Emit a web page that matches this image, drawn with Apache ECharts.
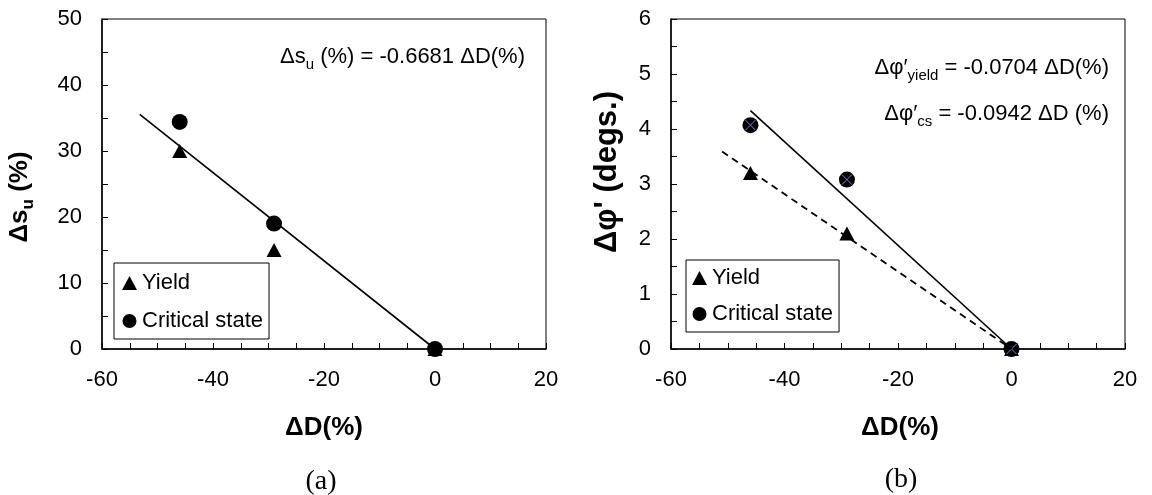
<!DOCTYPE html>
<html>
<head>
<meta charset="utf-8">
<script src="https://cdn.jsdelivr.net/npm/echarts@6/dist/echarts.min.js"></script>
<style>
  html, body { margin: 0; padding: 0; background: #fff; }
  #chart { width: 1152px; height: 495px; }
</style>
</head>
<body>
<div id="chart"></div>
<script>
// ---- Panel (a): change in undrained strength vs change in relative density ----
const dDa = [-46, -29, 0];
const suYield = [30, 15, 0];
const suCritical = [34.4, 19, 0];
const suSlope = -0.6681;          // fitted line, Δs_u = slope · ΔD
const suFitX = [-53.2, 0];        // extent of the fitted line

// ---- Panel (b): change in friction angle vs change in relative density ----
const dDb = [-46, -29, 0];
const phiYield = [3.2, 2.1, 0];
const phiCritical = [4.07, 3.08, 0];
const phiYieldSlope = -0.0704;
const phiCsSlope = -0.0942;
const phiYieldFitX = [-51, 0];
const phiCsFitX = [-46, 0];

// ---- Tick labels ----
const xTicks = [-60, -40, -20, 0, 20];
const suTicks = [0, 10, 20, 30, 40, 50];
const phiTicks = [0, 1, 2, 3, 4, 5, 6];

const FONT = "'Liberation Sans', Arial, Helvetica, sans-serif";
const SERIF = "'Liberation Serif', 'Times New Roman', serif";

const zip = (xs, ys) => xs.map((x, i) => [x, ys[i]]);
const fitLine = (slope, xs) => xs.map(x => [x, slope * x]);

function valueAxis(ticks, idx, minorSplit) {
  return {
    type: 'value',
    gridIndex: idx,
    min: ticks[0],
    max: ticks[ticks.length - 1],
    interval: ticks[1] - ticks[0],
    axisLine: { show: true, onZero: false, lineStyle: { color: '#000', width: 1.5 } },
    axisTick: { show: true, inside: true, length: 6, lineStyle: { color: '#000', width: 1 } },
    minorTick: { show: true, splitNumber: minorSplit, length: 6, lineStyle: { color: '#000', width: 1 } },
    splitLine: { show: false },
    axisLabel: { color: '#000', fontSize: 22, fontFamily: FONT, margin: 20 }
  };
}

const legendBase = {
  data: ['Yield', 'Critical state'],
  orient: 'vertical',
  itemWidth: 15,
  itemHeight: 14,
  borderColor: '#000',
  borderWidth: 1,
  borderRadius: 0,
  backgroundColor: '#fff',
  selectedMode: false,
  textStyle: { color: '#000', fontSize: 22, fontFamily: FONT }
};

const subStyle = (size, weight) => ({
  fontSize: size, fontFamily: FONT, fontWeight: weight, fill: '#000', padding: [size, 0, 0, 0]
});

function label(text, x, y, opts) {
  return {
    type: 'text', x: x, y: y, rotation: opts.rotation || 0, z: 100,
    style: {
      text: text,
      fill: '#000',
      fontSize: opts.size,
      fontFamily: opts.family || FONT,
      fontWeight: opts.weight || 'normal',
      align: opts.align || 'center',
      verticalAlign: 'middle',
      rich: { sub: subStyle(opts.subSize || 15, opts.weight || 'normal') }
    }
  };
}

const marker = { color: '#000', opacity: 1 };

const chart = echarts.init(document.getElementById('chart'), null, { renderer: 'canvas' });

chart.setOption({
  animation: false,
  backgroundColor: '#fff',
  grid: [
    { left: 102, top: 19, width: 444, height: 330, show: true, borderColor: '#000', borderWidth: 1, backgroundColor: 'transparent' },
    { left: 671, top: 19, width: 454, height: 330, show: true, borderColor: '#000', borderWidth: 1, backgroundColor: 'transparent' }
  ],
  xAxis: [valueAxis(xTicks, 0, 4), valueAxis(xTicks, 1, 4)],
  yAxis: [valueAxis(suTicks, 0, 2), valueAxis(phiTicks, 1, 2)],
  legend: [
    Object.assign({}, legendBase, { left: 114, top: 263, padding: [9, 6, 7, 8], itemGap: 16 }),
    Object.assign({}, legendBase, { left: 686, top: 260, padding: [7, 6, 7, 6], itemGap: 14 })
  ],
  series: [
    // (a)
    {
      name: 'fit-su', type: 'line', xAxisIndex: 0, yAxisIndex: 0,
      data: fitLine(suSlope, suFitX), symbol: 'none', silent: true,
      lineStyle: { color: '#000', width: 1.6 }
    },
    {
      name: 'Yield', type: 'scatter', xAxisIndex: 0, yAxisIndex: 0,
      data: zip(dDa, suYield), symbol: 'triangle', symbolSize: [15, 14],
      itemStyle: marker
    },
    {
      name: 'Critical state', type: 'scatter', xAxisIndex: 0, yAxisIndex: 0,
      data: zip(dDa, suCritical), symbol: 'circle', symbolSize: 16,
      itemStyle: marker
    },
    // (b)
    {
      name: 'fit-phi-cs', type: 'line', xAxisIndex: 1, yAxisIndex: 1,
      data: fitLine(phiCsSlope, phiCsFitX), symbol: 'none', silent: true,
      lineStyle: { color: '#000', width: 1.6 }
    },
    {
      name: 'fit-phi-yield', type: 'line', xAxisIndex: 1, yAxisIndex: 1,
      data: fitLine(phiYieldSlope, phiYieldFitX), symbol: 'none', silent: true,
      lineStyle: { color: '#000', width: 1.8, type: [7, 5] }
    },
    {
      name: 'Yield', type: 'scatter', xAxisIndex: 1, yAxisIndex: 1,
      data: zip(dDb, phiYield), symbol: 'triangle', symbolSize: [15, 14],
      itemStyle: marker
    },
    {
      name: 'Critical state', type: 'scatter', xAxisIndex: 1, yAxisIndex: 1,
      data: zip(dDb, phiCritical), symbol: 'circle', symbolSize: 16,
      itemStyle: marker
    },
    {
      name: 'cs-cross', type: 'scatter', xAxisIndex: 1, yAxisIndex: 1,
      data: zip(dDb, phiCritical), symbol: 'path://M0,0L10,10M10,0L0,10', symbolSize: 10,
      silent: true,
      itemStyle: { color: 'rgba(0,0,0,0)', borderColor: '#8f74d6', borderWidth: 1, opacity: 1 }
    }
  ],
  graphic: [
    // axis titles
    label('ΔD(%)', 324, 428, { size: 26, weight: 'bold' }),
    label('ΔD(%)', 900, 428, { size: 26, weight: 'bold' }),
    label('Δs{sub|u} (%)', 20, 197, { size: 26, weight: 'bold', subSize: 17, rotation: Math.PI / 2 }),
    label('Δφ\' (degs.)', 607, 172, { size: 31, weight: 'bold', rotation: Math.PI / 2 }),
    // fitted-line equations
    label('Δs{sub|u} (%) = ' + suSlope.toFixed(4) + ' ΔD(%)', 525, 57, { size: 22, align: 'right' }),
    label('Δφ′{sub|yield} = ' + phiYieldSlope.toFixed(4) + ' ΔD(%)', 1109, 68, { size: 22, align: 'right' }),
    label('Δφ′{sub|cs} = ' + phiCsSlope.toFixed(4) + ' ΔD (%)', 1109, 114, { size: 22, align: 'right' }),
    // panel captions
    label('(a)', 321, 482, { size: 28, family: SERIF }),
    label('(b)', 901, 480, { size: 28, family: SERIF })
  ]
});
</script>
</body>
</html>
